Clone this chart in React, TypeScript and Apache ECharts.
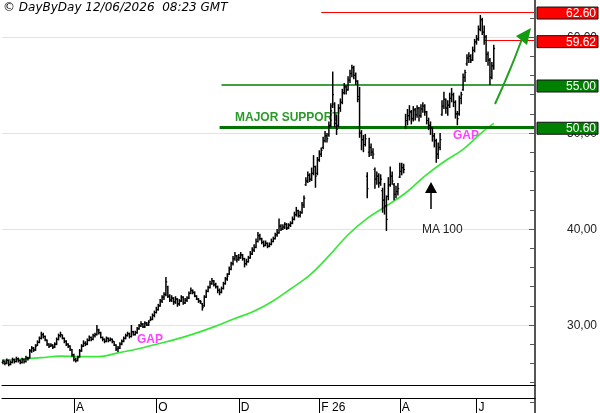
import React, { useEffect, useRef } from "react";
import * as echarts from "echarts";

// ---------- DATA ----------
const startDate = "2025-06-11";
const holidays = ["2025-12-25", "2025-12-26", "2026-01-01", "2026-04-03", "2026-04-06", "2026-05-01"];
const totalSlots = 278; // trading days incl. empty space on the right
const monthInitials = ["J", "F", "M", "A", "M", "J", "J", "A", "S", "O", "N", "D"];
const labelMonths = [7, 9, 11, 1, 3, 5];
const yTickLabels = [30, 40, 50, 60];

// open, high, low, close (daily)
const ohlc: number[][] = [
  [26.1, 26.4, 25.9, 26.2], [26.2, 26.3, 25.8, 26.0], [26.0, 26.5, 25.9, 26.3], [26.3, 26.4, 25.7, 25.9],
  [25.9, 26.3, 25.8, 26.1], [26.1, 26.6, 26.0, 26.4], [26.4, 26.5, 26.0, 26.2], [26.2, 26.7, 26.1, 26.5],
  [26.5, 26.6, 26.1, 26.3], [26.3, 26.4, 25.9, 26.1], [26.1, 26.6, 26.0, 26.4], [26.4, 26.5, 26.0, 26.2],
  [26.2, 26.8, 26.1, 26.6], [26.6, 26.7, 26.3, 26.5], [26.6, 27.5, 26.5, 27.3], [27.3, 27.8, 27.1, 27.6],
  [27.6, 27.7, 27.2, 27.4], [27.4, 28.0, 27.3, 27.8], [27.9, 28.4, 27.8, 28.2], [28.2, 28.8, 28.1, 28.6],
  [28.6, 29.3, 28.5, 29.0], [29.0, 29.2, 28.6, 28.8], [28.8, 28.9, 28.3, 28.5], [28.4, 28.5, 27.8, 28.0],
  [28.0, 28.1, 27.6, 27.8], [27.8, 28.1, 27.7, 27.9], [27.9, 28.0, 27.5, 27.7], [27.7, 28.2, 27.6, 28.0],
  [28.0, 28.7, 27.9, 28.5], [28.5, 29.1, 28.4, 28.9], [28.9, 29.3, 28.7, 29.0], [29.0, 29.0, 28.5, 28.6],
  [28.6, 28.7, 28.1, 28.3], [28.3, 28.4, 27.8, 28.0], [28.0, 28.1, 27.6, 27.8], [27.8, 27.9, 27.3, 27.5],
  [27.4, 27.5, 26.7, 26.9], [26.9, 27.0, 26.2, 26.4], [26.4, 26.6, 26.1, 26.3], [26.3, 26.8, 26.2, 26.6],
  [26.7, 27.5, 26.6, 27.3], [27.3, 28.0, 27.2, 27.8], [27.8, 28.4, 27.7, 28.1], [28.1, 28.3, 27.8, 28.0],
  [28.0, 28.6, 27.9, 28.4], [28.4, 28.9, 28.3, 28.7], [28.7, 28.8, 28.3, 28.5], [28.5, 29.1, 28.4, 28.9],
  [28.9, 29.2, 28.7, 29.0], [29.0, 30.0, 28.9, 29.5], [29.5, 29.6, 29.0, 29.2], [29.2, 29.3, 28.6, 28.7],
  [28.7, 28.8, 28.3, 28.5], [28.5, 28.6, 28.1, 28.3], [28.3, 28.8, 28.2, 28.6], [28.6, 28.7, 28.2, 28.4],
  [28.4, 28.7, 28.3, 28.5], [28.5, 28.6, 28.1, 28.3], [28.3, 28.3, 27.8, 27.9], [27.9, 28.0, 27.3, 27.5],
  [27.5, 27.8, 27.2, 27.6], [27.6, 28.2, 27.5, 28.0], [28.0, 28.5, 27.9, 28.3], [28.3, 28.8, 28.2, 28.6],
  [28.6, 29.1, 28.5, 28.9], [28.9, 29.3, 28.8, 29.1], [29.1, 29.2, 28.6, 28.8], [28.8, 30.0, 28.7, 29.3],
  [29.3, 29.4, 28.9, 29.0], [29.0, 29.4, 28.9, 29.2], [29.2, 29.8, 29.1, 29.6], [29.6, 30.1, 29.5, 29.9],
  [29.9, 30.4, 29.8, 30.1], [30.1, 30.2, 29.7, 29.8], [29.8, 30.4, 29.7, 30.2], [30.2, 30.3, 29.9, 30.0],
  [30.0, 30.5, 29.9, 30.3], [30.5, 30.9, 30.4, 30.6], [30.6, 31.2, 30.5, 31.0], [31.0, 31.5, 30.8, 31.3],
  [31.3, 31.9, 31.2, 31.6], [31.6, 32.2, 31.5, 32.0], [32.0, 32.7, 31.9, 32.5], [32.5, 33.1, 32.3, 32.9],
  [32.9, 33.4, 32.6, 33.2], [33.2, 35.0, 33.0, 34.5], [34.0, 34.1, 32.8, 33.0], [33.0, 33.2, 32.4, 32.6],
  [32.6, 33.1, 32.4, 32.8], [32.8, 32.9, 32.1, 32.4], [32.4, 33.0, 32.2, 32.7], [32.7, 32.8, 31.9, 32.2],
  [32.2, 32.7, 32.0, 32.5], [32.5, 33.1, 32.4, 32.9], [32.9, 33.0, 32.1, 32.3], [32.3, 32.8, 32.2, 32.6],
  [32.6, 33.0, 32.4, 32.8], [32.8, 33.5, 32.7, 33.3], [33.3, 33.9, 33.2, 33.6], [33.6, 33.7, 33.2, 33.4],
  [33.4, 33.5, 32.9, 33.0], [33.0, 33.1, 32.6, 32.7], [32.7, 32.8, 32.3, 32.5], [32.5, 32.6, 32.2, 32.4],
  [32.2, 32.3, 31.5, 31.8], [32.0, 33.1, 31.9, 32.9], [32.9, 33.7, 32.8, 33.5], [33.5, 34.1, 33.4, 33.9],
  [33.9, 34.6, 33.8, 34.3], [34.3, 34.9, 34.2, 34.6], [34.6, 34.7, 34.0, 34.2], [34.2, 34.4, 33.8, 34.0],
  [34.0, 34.1, 33.3, 33.6], [33.6, 33.8, 33.1, 33.4], [33.4, 34.0, 33.3, 33.8], [33.8, 34.5, 33.7, 34.3],
  [34.3, 35.0, 34.2, 34.8], [34.8, 35.4, 34.6, 35.1], [35.3, 36.1, 35.2, 35.8], [35.8, 36.6, 35.7, 36.4],
  [36.4, 37.2, 36.2, 36.9], [36.9, 37.6, 36.7, 37.2], [37.2, 37.3, 36.5, 36.8], [37.0, 37.4, 36.7, 37.0],
  [37.0, 37.6, 36.9, 37.3], [37.3, 37.4, 36.7, 36.9], [36.9, 37.0, 36.0, 36.4], [36.4, 36.9, 36.2, 36.6],
  [36.6, 37.2, 36.5, 37.0], [37.0, 37.7, 36.9, 37.4], [37.4, 38.1, 37.3, 37.8], [37.8, 38.4, 37.6, 38.1],
  [38.1, 39.0, 38.0, 38.7], [38.7, 39.7, 38.6, 39.3], [39.3, 39.5, 38.8, 39.0], [39.0, 39.1, 38.4, 38.6],
  [38.6, 38.8, 38.1, 38.3], [38.3, 38.8, 38.2, 38.5], [38.5, 38.6, 38.0, 38.2], [38.2, 38.6, 38.1, 38.4],
  [38.4, 39.0, 38.3, 38.7], [38.7, 39.2, 38.6, 39.0], [39.0, 39.6, 38.9, 39.4], [39.4, 40.0, 39.2, 39.6],
  [39.6, 41.1, 39.5, 40.3], [40.3, 40.5, 39.8, 40.0], [40.0, 40.5, 39.9, 40.2], [40.2, 40.7, 40.0, 40.5],
  [40.5, 40.6, 39.9, 40.1], [40.1, 40.6, 40.0, 40.4], [40.4, 40.8, 40.2, 40.6], [40.6, 41.3, 40.5, 41.0],
  [41.0, 41.8, 40.9, 41.5], [41.5, 42.3, 41.3, 41.9], [41.9, 42.0, 41.2, 41.4], [41.4, 41.9, 41.2, 41.7],
  [41.7, 42.8, 41.6, 42.5], [42.5, 43.5, 42.2, 43.2], [44.6, 45.4, 44.5, 45.0], [45.0, 46.0, 44.8, 45.6],
  [45.6, 45.8, 44.9, 45.2], [45.2, 46.4, 45.0, 45.8], [45.8, 47.7, 45.6, 46.5], [46.5, 46.6, 44.3, 45.5],
  [45.8, 47.5, 45.6, 47.2], [47.2, 48.2, 47.0, 47.8], [47.8, 48.5, 47.5, 48.2], [48.5, 49.6, 48.3, 49.2],
  [49.2, 50.2, 49.0, 49.7], [49.7, 50.0, 49.0, 49.4], [49.8, 51.2, 49.6, 50.8], [50.8, 53.1, 50.6, 52.3],
  [52.8, 56.4, 52.6, 54.0], [53.0, 53.2, 50.6, 51.0], [51.0, 51.9, 49.8, 50.4], [50.8, 53.0, 50.6, 52.6],
  [52.6, 53.6, 52.2, 53.2], [53.2, 54.6, 53.0, 54.2], [54.2, 55.2, 54.0, 54.8], [54.8, 55.0, 54.0, 54.5],
  [54.5, 55.9, 54.4, 55.5], [55.5, 56.6, 55.2, 56.2], [56.2, 57.1, 55.8, 56.8], [56.8, 57.0, 55.6, 56.0],
  [56.0, 56.3, 55.0, 55.4], [55.4, 55.5, 53.2, 53.8], [53.5, 54.8, 49.5, 50.0], [50.0, 50.3, 48.2, 49.3],
  [49.3, 49.8, 48.0, 48.8], [48.8, 49.9, 48.6, 49.4], [45.5, 45.9, 43.2, 44.2], [48.0, 49.5, 47.5, 48.5],
  [48.5, 48.9, 47.6, 48.0], [48.0, 48.4, 47.3, 47.8], [46.2, 46.4, 44.2, 45.2], [45.2, 46.0, 44.6, 45.5],
  [45.5, 45.8, 44.3, 44.8], [44.8, 45.7, 44.5, 45.2], [44.0, 44.3, 41.7, 43.0], [43.0, 44.8, 41.5, 42.4],
  [42.4, 43.5, 39.8, 41.0], [43.4, 45.4, 43.0, 44.6], [44.6, 46.5, 44.4, 45.5], [45.5, 46.0, 44.6, 45.0],
  [44.6, 44.8, 43.0, 43.6], [43.6, 44.5, 43.2, 43.9], [43.9, 44.8, 43.5, 44.2], [45.4, 46.9, 45.3, 46.0],
  [46.0, 46.9, 45.6, 46.4], [46.4, 46.8, 45.8, 46.2], [50.6, 52.0, 50.4, 51.3], [51.3, 52.5, 50.8, 51.8],
  [51.8, 52.9, 51.3, 52.2], [52.2, 52.4, 50.9, 51.5], [51.5, 52.8, 51.2, 52.4], [52.4, 52.6, 51.3, 51.9],
  [51.9, 52.9, 51.6, 52.6], [52.6, 52.7, 51.2, 51.8], [51.8, 53.0, 51.6, 52.5], [52.5, 53.2, 52.1, 52.8],
  [52.8, 53.0, 51.8, 52.2], [52.2, 52.3, 50.9, 51.3], [51.3, 51.6, 50.3, 50.8], [50.8, 51.2, 49.8, 50.5],
  [50.5, 50.6, 49.1, 49.7], [49.7, 50.0, 48.5, 49.2], [49.2, 49.4, 46.9, 47.8], [47.8, 49.0, 47.3, 48.5],
  [48.5, 50.0, 48.2, 49.3], [51.9, 53.4, 51.8, 52.8], [52.8, 54.3, 52.5, 53.5], [53.5, 53.6, 52.0, 52.6],
  [52.6, 53.4, 51.8, 52.9], [52.9, 54.2, 52.6, 53.6], [53.6, 54.7, 53.2, 54.0], [54.0, 54.2, 52.7, 53.2],
  [53.2, 53.4, 51.5, 52.0], [52.0, 52.3, 50.8, 51.5], [52.0, 53.9, 51.8, 53.6], [53.6, 54.3, 53.0, 54.0],
  [54.5, 56.2, 54.4, 55.8], [55.8, 56.6, 55.3, 56.3], [57.2, 58.2, 57.0, 57.8], [57.8, 58.4, 57.3, 58.0],
  [58.0, 58.2, 57.3, 57.6], [57.6, 59.0, 57.5, 58.6], [58.6, 59.8, 58.4, 59.5], [59.5, 60.2, 59.2, 59.8],
  [59.8, 61.2, 59.6, 60.8], [60.8, 62.3, 60.6, 61.8], [61.8, 62.0, 60.2, 60.5], [60.5, 61.2, 59.2, 60.0],
  [60.0, 60.2, 57.4, 58.2], [58.2, 58.5, 57.0, 57.6], [57.6, 57.8, 55.0, 55.8], [55.8, 57.4, 55.6, 57.0],
  [57.0, 59.2, 56.6, 58.8],
];

// 100-day moving average: [trading-day index, value]
const ma100: number[][] = [
  [0, 26.35], [10, 26.45], [20, 26.6], [30, 26.75], [40, 26.7], [50, 26.7], [60, 27.1], [70, 27.5],
  [80, 28.0], [90, 28.5], [100, 29.1], [110, 29.8], [120, 30.6], [130, 31.35], [140, 32.4], [150, 33.75],
  [160, 35.2], [170, 37.2], [180, 39.4], [190, 41.1], [200, 42.4], [210, 43.75], [220, 45.5], [230, 47.0],
  [240, 48.3], [250, 50.1], [256, 51.0],
];

// horizontal levels: value, first trading-day index, colour, width, box label
const levelValues = [62.6, 59.62, 55.0, 50.6];
const levelStarts = [166, 251, 114, 113];
const levelColors = ["#ff0000", "#ff0000", "#008000", "#007400"];
const boxColors = ["#ff0000", "#ff0000", "#008000", "#008000"];
const levelWidths = [1, 1, 1.5, 3];
const levelLabels = ["62.60", "59.62", "55.00", "50.60"];

const FONT = '"Liberation Sans", Arial, sans-serif';

function buildDates(start: string, n: number): string[] {
  const out: string[] = [];
  const d = new Date(start + "T00:00:00Z");
  while (out.length < n) {
    const dow = d.getUTCDay();
    const s = d.toISOString().slice(0, 10);
    if (dow !== 0 && dow !== 6 && !holidays.includes(s)) out.push(s);
    d.setUTCDate(d.getUTCDate() + 1);
  }
  return out;
}

export default function App() {
  const ref = useRef<HTMLDivElement>(null);

  useEffect(() => {
    if (!ref.current) return;
    const chart = echarts.init(ref.current, null, { renderer: "svg" });
    const dates = buildDates(startDate, totalSlots);

    const labels = new Map<number, string>();
    let prevYear: number | null = null;
    dates.forEach((d, i) => {
      if (i === 0) return;
      const m = +d.slice(5, 7) - 1;
      const pm = +dates[i - 1].slice(5, 7) - 1;
      if (m !== pm && labelMonths.includes(m)) {
        const y = +d.slice(0, 4);
        labels.set(i, monthInitials[m] + (prevYear !== null && y !== prevYear ? " " + String(y).slice(2) : ""));
        prevYear = y;
      }
    });
    const showLabel = (i: number) => labels.has(i);
    const lastIdx = totalSlots - 1;

    const markData = levelValues.map((v, k) => [
      { coord: [levelStarts[k], v], lineStyle: { color: levelColors[k], width: levelWidths[k], type: "solid", opacity: 1 } },
      { coord: [lastIdx, v], lineStyle: { color: levelColors[k], width: levelWidths[k], type: "solid", opacity: 1 } },
    ]);

    const option: any = {
      animation: false,
      grid: [
        { left: 2, width: 533, top: -1.4, height: 422.4, outerBoundsMode: "none", containLabel: false },
        { left: 2, width: 533, top: 385, height: 13, outerBoundsMode: "none", containLabel: false },
      ],
      xAxis: [
        { type: "category", gridIndex: 0, data: dates, show: false },
        {
          type: "category", gridIndex: 1, data: dates, position: "bottom",
          axisLine: { show: true, lineStyle: { color: "#000", width: 1 } },
          axisTick: { show: true, interval: showLabel, alignWithLabel: true, length: 15, lineStyle: { color: "#000" } },
          axisLabel: {
            interval: showLabel, formatter: (_v: string, i: number) => labels.get(i) ?? "",
            align: "left", margin: 3, padding: [0, 0, 0, 2], color: "#000", fontSize: 12, fontFamily: FONT,
          },
          splitLine: { show: false },
        },
        {
          type: "category", gridIndex: 1, data: dates, position: "top",
          axisLine: { show: true, lineStyle: { color: "#000", width: 1 } },
          axisTick: { show: false }, axisLabel: { show: false }, splitLine: { show: false },
        },
      ],
      yAxis: [
        {
          type: "value", gridIndex: 0, position: "right", min: 20, max: 64, interval: 10,
          axisLine: { show: true, lineStyle: { color: "#555", width: 2 } },
          axisTick: { show: true, inside: true, length: 6, lineStyle: { color: "#555" } },
          minorTick: { show: true, splitNumber: 5, length: 5, lineStyle: { color: "#555" } },
          axisLabel: {
            margin: 62, align: "right", color: "#222", fontSize: 12, fontFamily: FONT,
            showMinLabel: false, showMaxLabel: false,
            formatter: (v: number) => (yTickLabels.includes(v) ? v.toFixed(2).replace(".", ",") : ""),
          },
          splitLine: { show: true, lineStyle: { color: "#cdf3cd", width: 1 } },
        },
        { type: "value", gridIndex: 1, show: false },
      ],
      series: [
        {
          type: "line", xAxisIndex: 0, yAxisIndex: 0, data: ma100, smooth: 0.4, symbol: "none", z: 2,
          lineStyle: { color: "#38e838", width: 1.7 },
          markLine: { silent: true, symbol: ["none", "none"], label: { show: false }, data: markData, z: 3 },
        },
        {
          type: "custom", xAxisIndex: 0, yAxisIndex: 0, z: 5,
          data: ohlc.map((r, i) => [i, r[0], r[1], r[2], r[3]]),
          encode: { x: 0, y: [1, 2, 3, 4] },
          renderItem: (_p: any, api: any) => {
            const i = api.value(0);
            const [x, oy] = api.coord([i, api.value(1)]);
            const hy = api.coord([i, api.value(2)])[1];
            const ly = api.coord([i, api.value(3)])[1];
            const cy = api.coord([i, api.value(4)])[1];
            const st = { stroke: "#000", lineWidth: 1.5 };
            const tk = { stroke: "#000", lineWidth: 1.2 };
            return {
              type: "group",
              children: [
                { type: "line", shape: { x1: x, y1: hy, x2: x, y2: ly }, style: st },
                { type: "line", shape: { x1: x - 1.3, y1: oy, x2: x, y2: oy }, style: tk },
                { type: "line", shape: { x1: x, y1: cy, x2: x + 1.3, y2: cy }, style: tk },
              ],
            };
          },
        },
      ],
    };
    chart.setOption(option);

    const boxes: any[] = [];
    levelValues.forEach((v, k) => {
      const py = chart.convertToPixel({ yAxisIndex: 0 }, v) as number;
      boxes.push({
        type: "rect", z: 20, shape: { x: 537, y: py - 5, width: 61, height: 12 },
        style: { fill: boxColors[k], stroke: "#111", lineWidth: 1 },
      });
      boxes.push({
        type: "text", z: 21, x: 596, y: py + 1,
        style: { text: levelLabels[k], fill: "#fff", font: "12px " + FONT, textAlign: "right", textVerticalAlign: "middle", align: "right", verticalAlign: "middle" },
      });
    });

    const txt = (text: string, x: number, y: number, font: string, fill: string, z = 1) => ({
      type: "text", z, x, y,
      style: { text, font, fill, textVerticalAlign: "middle", verticalAlign: "middle" },
    });

    chart.setOption({
      graphic: [
        txt("© DayByDay 12/06/2026  08:23 GMT", 3, 7, 'italic 12px "DejaVu Sans", Verdana, sans-serif', "#000", 10),
        txt("MAJOR SUPPORT", 235, 117, "bold 12px " + FONT, "#2a9a2a", 1),
        txt("GAP", 137, 339, "bold 12px " + FONT, "#ff40ff", 1),
        txt("GAP", 453, 135, "bold 12px " + FONT, "#ff40ff", 1),
        txt("MA 100", 422, 229, "12px " + FONT, "#222", 1),
        { type: "line", z: 10, shape: { x1: 431, y1: 209, x2: 431, y2: 190 }, style: { stroke: "#000", lineWidth: 1.5 } },
        { type: "polygon", z: 10, shape: { points: [[425, 193], [431, 182], [437, 193]] }, style: { fill: "#000" } },
        { type: "bezierCurve", z: 10, shape: { x1: 495, y1: 104, x2: 522, y2: 39, cpx1: 509, cpy1: 74 }, style: { stroke: "#22a022", lineWidth: 2, fill: "none" } },
        { type: "polygon", z: 10, shape: { points: [[531, 28], [516, 36], [527, 45]] }, style: { fill: "#129a12" } },
        ...boxes,
      ],
    });

    return () => chart.dispose();
  }, []);

  return <div ref={ref} style={{ position: "fixed", left: 0, top: 0, width: 600, height: 413 }} />;
}
